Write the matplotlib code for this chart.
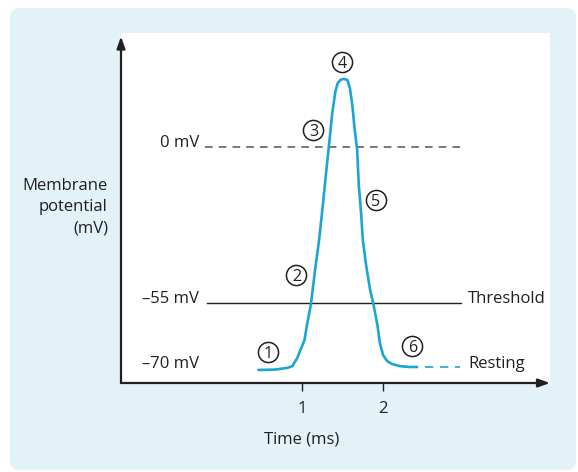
import numpy as np
import matplotlib
matplotlib.use("Agg")
import matplotlib.pyplot as plt
from matplotlib.patches import FancyBboxPatch
from matplotlib.scale import FuncScale

plt.rcParams['font.family'] = ['Open Sans', 'DejaVu Sans']

# membrane potential trace (time in ms, potential in mV)
time_ms = [0.46, 0.67, 0.82, 0.88, 0.94, 0.98, 1.03, 1.06, 1.11, 1.16, 1.21, 1.25,
           1.30, 1.33, 1.37, 1.41, 1.44, 1.48, 1.52, 1.56, 1.59, 1.62, 1.65, 1.68,
           1.70, 1.73, 1.75, 1.79, 1.84, 1.88, 1.93, 1.96, 2.00, 2.05, 2.11, 2.21,
           2.33, 2.42]
potential_mv = [-70.7, -70.6, -70.2, -69.8, -67.9, -66.0, -63.7, -60.2, -55.2, -43.4,
                -32.8, -22.2, -8.1, 0.0, 11.3, 19.4, 22.6, 23.8, 24.0, 23.6, 20.8,
                14.8, 6.0, -1.1, -13.4, -24.0, -32.8, -41.6, -50.4, -55.2, -60.2,
                -64.4, -67.2, -68.6, -69.3, -69.8, -70.0, -70.0]

zero_mv = 0
threshold_mv = -55
resting_mv = -70
x_ticks = [1, 2]
phase_labels = ['1', '2', '3', '4', '5', '6']

light_blue = '#e2f2f8'
trace_blue = '#1aa6d0'
ink = '#231f20'

# schematic (piecewise) vertical scale: the -70..-55 band is stretched
anchor_mv = [-100, -70, -55, 0, 100]
anchor_px = [495.0, 367.0, 303.0, 147.0, -136.6]


def fwd(v):
    return -np.interp(v, anchor_mv, anchor_px)


def inv(u):
    return np.interp(-u, anchor_px[::-1], anchor_mv[::-1])


fig = plt.figure(figsize=(5.78, 4.72), dpi=100)
fig.patch.set_facecolor('white')

W, H = 578.0, 472.0
panel = FancyBboxPatch((10 / W, 2 / H), 566 / W, 462 / H,
                       boxstyle='round,pad=0,rounding_size=0.018',
                       transform=fig.transFigure, facecolor=light_blue,
                       edgecolor='none', zorder=0)
fig.add_artist(panel)

ax = fig.add_axes([121 / W, 1 - 383 / H, 429 / W, 350 / H])
ax.set_facecolor('white')
ax.set_yscale(FuncScale(ax, (fwd, inv)))
ax.set_xlim(-1.235, 4.06)
ax.set_ylim(-73.75, 40.2)

for s in ax.spines.values():
    s.set_visible(False)

# axes drawn as arrows
arrow = dict(arrowstyle='-|>,head_length=0.7,head_width=0.25', color=ink, lw=1.6,
             shrinkA=0, shrinkB=0)
ax.annotate('', xy=(1.0, 0), xytext=(0, 0), xycoords='axes fraction', arrowprops=arrow)
ax.annotate('', xy=(0, 0.99), xytext=(0, 0), xycoords='axes fraction', arrowprops=arrow)

ax.set_xticks(x_ticks)
ax.set_xticklabels([str(t) for t in x_ticks])
ax.tick_params(axis='x', direction='out', length=6, width=1, color=ink,
               labelsize=12, pad=7, labelcolor=ink)
ax.set_yticks([])
ax.set_xlabel('Time (ms)', fontsize=12, color=ink)
ax.xaxis.set_label_coords((302 - 121) / 429, -0.14)

# reference levels
ax.plot([-0.2, 2.95], [zero_mv, zero_mv], color='#555555', lw=1.1,
        dashes=(5, 4), zorder=2)
ax.plot([-0.17, 2.96], [threshold_mv, threshold_mv], color=ink, lw=1.0, zorder=2)
ax.plot([2.52, 2.95], [resting_mv, resting_mv], color=trace_blue, lw=1.2,
        dashes=(5, 4), zorder=2)

ax.plot(time_ms, potential_mv, color=trace_blue, lw=1.9, zorder=3,
        solid_capstyle='round', solid_joinstyle='round')

lbl = dict(fontsize=12, color=ink, va='center')
ax.text(-0.27, zero_mv + 1.5, '0 mV', ha='right', **lbl)
ax.text(-0.27, threshold_mv + 1.3, '–55 mV', ha='right', **lbl)
ax.text(-0.27, resting_mv + 0.6, '–70 mV', ha='right', **lbl)
ax.text(3.05, threshold_mv + 1.3, 'Threshold', ha='left', **lbl)
ax.text(3.05, resting_mv + 0.6, 'Resting', ha='left', **lbl)

# numbered phases, each in a ring
phase_pos = [(0.58, -66.5), (0.93, -45.1), (1.14, 6.0), (1.49, 30.0),
             (1.91, -18.7), (2.36, -65.1)]
for p, (t, v) in zip(phase_labels, phase_pos):
    ax.plot(t, v, marker='o', markersize=14.5, mfc='none', mec=ink, mew=1.1,
            clip_on=False, zorder=4)
    ax.annotate(p, (t, v), xytext=(0, -4.1), textcoords='offset points',
                ha='center', va='baseline', fontsize=11.5, color=ink, zorder=4)

fig.text(108 / W, 1 - 207 / H, 'Membrane\npotential\n(mV)', ha='right', va='center',
         multialignment='right', fontsize=12, color=ink, linespacing=1.45)

fig.savefig('out.png', dpi=100, facecolor=fig.get_facecolor())
